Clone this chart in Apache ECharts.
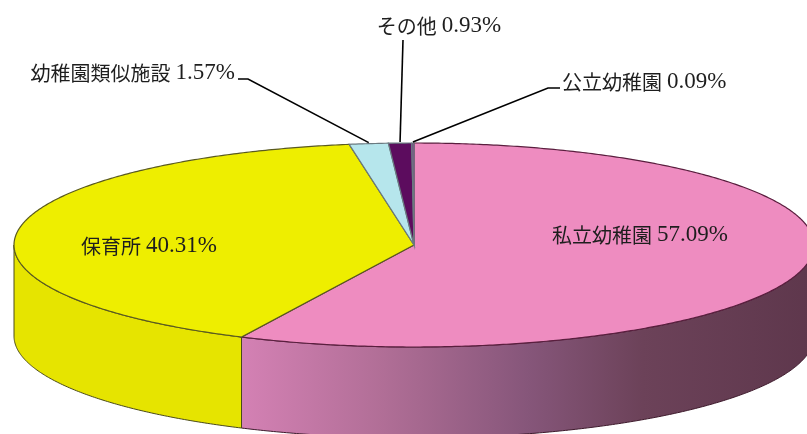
<!DOCTYPE html>
<html lang="ja">
<head>
<meta charset="UTF-8">
<title>幼児教育・保育の施設別割合</title>
<script src="https://cdn.jsdelivr.net/npm/echarts@6/dist/echarts.min.js"></script>
<style>
  html, body { margin: 0; padding: 0; background: #fff; }
  #chart { width: 807px; height: 434px; }
</style>
</head>
<body>
<div id="chart"></div>
<script>
// data
const categories = ['私立幼稚園', '保育所', '幼稚園類似施設', 'その他', '公立幼稚園'];
const shares = [57.09, 40.31, 1.57, 0.93, 0.09];

// look
const topColors = ['#EE8CC0', '#EEEE00', '#B6E6EC', '#5C0C5E', '#7A4A86'];
const sideColors = [null, '#E6E400', '#A6D6DC', '#4A084C', '#6A3E76'];
const geo = { cx: 414, cy: 245, rx: 400, ry: 102, depth: 91 };

// label placement (screen px); elbow = leader line bend points
const labelSpots = [
    { x: 640, y: 235, align: 'center' },
    { x: 149, y: 246, align: 'center' },
    { x: 235, y: 73, align: 'right', elbow: [[238, 79], [248, 79]] },
    { x: 439, y: 26, align: 'center', elbow: [[403, 40]] },
    { x: 562, y: 82, align: 'left', elbow: [[560, 88], [548, 88]] }
];

const total = shares.reduce((a, b) => a + b, 0);
const starts = [];
let acc = 0;
shares.forEach(v => { starts.push(acc / total * 360); acc += v; });

const rad = d => d * Math.PI / 180;
const px = d => geo.cx + geo.rx * Math.sin(rad(d));
const py = d => geo.cy - geo.ry * Math.cos(rad(d));

function arc(a0, a1, dy) {
    const pts = [];
    const n = Math.max(2, Math.ceil((a1 - a0) / 0.5));
    for (let i = 0; i <= n; i++) {
        const a = a0 + (a1 - a0) * i / n;
        pts.push([px(a), py(a) + dy]);
    }
    return pts;
}

const seriesData = categories.map((c, i) => ({ name: c, value: shares[i] }));

function renderSide(params, api) {
    const i = params.dataIndex;
    const a0 = starts[i];
    const a1 = a0 + api.value(0) / total * 360;
    const s = Math.max(a0, 90), e = Math.min(a1, 270);
    if (e <= s) return null;
    const upper = arc(s, e, 0);
    const lower = arc(s, e, geo.depth).reverse();
    let fill = sideColors[i];
    if (i === 0) {
        fill = new echarts.graphic.LinearGradient(0, 0, 1, 0, [
            { offset: 0, color: '#D481B4' },
            { offset: 0.25, color: '#B06E96' },
            { offset: 0.5, color: '#86567A' },
            { offset: 0.7, color: '#6C4259' },
            { offset: 1, color: '#5E374C' }
        ]);
    }
    return {
        type: 'polygon',
        shape: { points: upper.concat(lower) },
        style: { fill: fill, stroke: i === 0 ? '#3E1A2C' : '#4A4A1A', lineWidth: 1 }
    };
}

function renderTop(params, api) {
    const i = params.dataIndex;
    const a0 = starts[i];
    const a1 = a0 + api.value(0) / total * 360;
    const pts = [[geo.cx, geo.cy]].concat(arc(a0, a1, 0));
    return {
        type: 'polygon',
        shape: { points: pts },
        style: {
            fill: topColors[i],
            stroke: i === 0 ? '#5A1E3E' : (i === 1 ? '#5A5A20' : '#6A7A80'),
            lineWidth: 1.2
        }
    };
}

function renderLabel(params, api) {
    const i = params.dataIndex;
    const a0 = starts[i];
    const a1 = a0 + api.value(0) / total * 360;
    const mid = (a0 + a1) / 2;
    const spot = labelSpots[i];
    const children = [{
        type: 'text',
        style: {
            text: '{n|' + categories[i] + '} {v|' + api.value(0).toFixed(2) + '%}',
            x: spot.x, y: spot.y,
            fill: '#1E1E1E',
            align: spot.align,
            verticalAlign: 'middle',
            fontSize: 20,
            fontFamily: "'Liberation Serif', serif",
            rich: {
                n: { fontSize: 20, fontFamily: "'Noto Sans CJK JP'", fill: '#1E1E1E' },
                v: { fontSize: 23, fontFamily: "'Liberation Serif', serif", fill: '#1E1E1E' }
            }
        }
    }];
    if (spot.elbow) {
        children.push({
            type: 'polyline',
            shape: { points: spot.elbow.concat([[px(mid), py(mid) - 1]]) },
            style: { stroke: '#000', lineWidth: 1.6, fill: null }
        });
    }
    return { type: 'group', children: children };
}

const chart = echarts.init(document.getElementById('chart'), null, { renderer: 'canvas' });
chart.setOption({
    animation: false,
    backgroundColor: '#fff',
    series: [
        { type: 'custom', coordinateSystem: 'none', z: 1, data: seriesData, renderItem: renderSide },
        { type: 'custom', coordinateSystem: 'none', z: 2, data: seriesData, renderItem: renderTop },
        { type: 'custom', coordinateSystem: 'none', z: 3, data: seriesData, renderItem: renderLabel }
    ]
});
</script>
</body>
</html>
